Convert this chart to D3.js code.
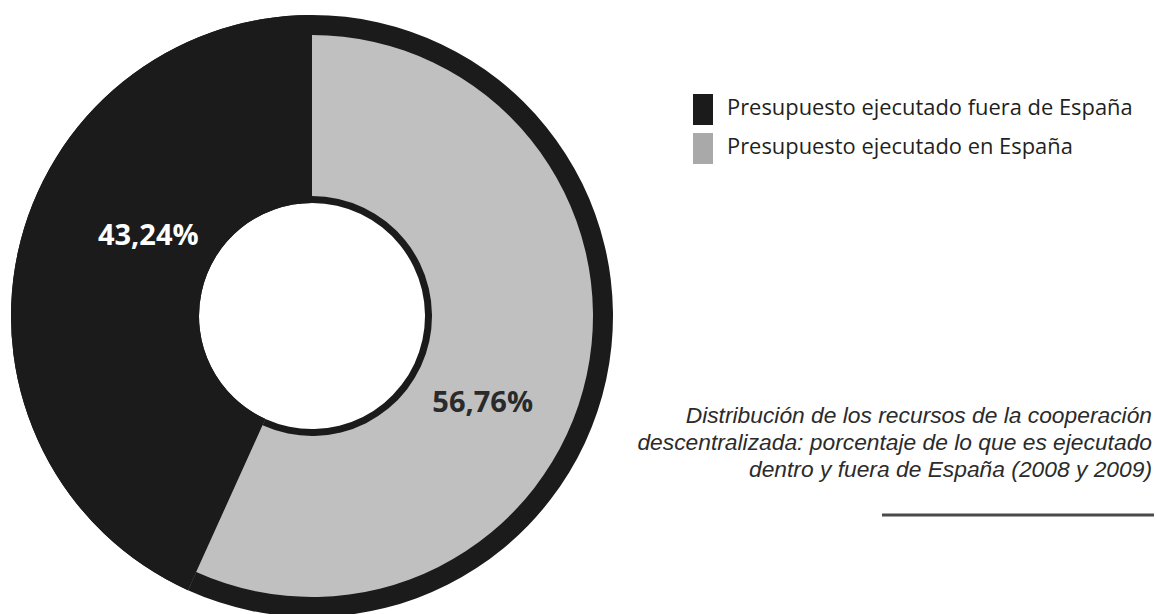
<!DOCTYPE html>
<html>
<head>
<meta charset="utf-8">
<script src="https://cdn.jsdelivr.net/npm/d3@7"></script>
<style>
  body { margin: 0; background: #fff; }
</style>
</head>
<body>
<svg id="chart" width="1157" height="614"></svg>
<script>
// data
const categories = ["Presupuesto ejecutado fuera de España", "Presupuesto ejecutado en España"];
const values = [43.24, 56.76];
const valueLabels = ["43,24%", "56,76%"];
const captionLines = [
  "Distribución de los recursos de la cooperación",
  "descentralizada: porcentaje de lo que es ejecutado",
  "dentro y fuera de España (2008 y 2009)"
];

let darkColor = "#1b1b1b";
let greyColor = "#c0c0c0";
let legendGrey = "#a9a9a9";
let textColor = "#231f20";

let svg = d3.select("#chart");

let cx = 312, cy = 316;
let holeRadius = 113;
let outerRadius = 301;
let innerGap = 7;    // dark ring round the hole
let outerGap = 20;   // dark ring round the light slice

let color = d3.scaleOrdinal().domain(categories).range([darkColor, greyColor]);
let legendColor = d3.scaleOrdinal().domain(categories).range([darkColor, legendGrey]);

let total = d3.sum(values);
let startAngle = -values[0] / total * 2 * Math.PI;

let pie = d3.pie()
  .value(function(d) { return d.value; })
  .sort(null)
  .startAngle(startAngle)
  .endAngle(startAngle + 2 * Math.PI);

let data = categories.map(function(c, i) {
  return { key: c, value: values[i], label: valueLabels[i] };
});
let arcs = pie(data);

let backArc = d3.arc()
  .innerRadius(holeRadius)
  .outerRadius(outerRadius);

let sliceArc = d3.arc()
  .innerRadius(function(d, i) { return i == 0 ? holeRadius : holeRadius + innerGap; })
  .outerRadius(function(d, i) { return i == 0 ? outerRadius : outerRadius - outerGap; });

let g = svg.append("g")
  .attr("transform", "translate(" + cx + "," + cy + ")");

// dark ring behind everything
g.selectAll(".back")
  .data(arcs)
  .enter().append("path")
  .attr("class", "back")
  .attr("d", backArc)
  .attr("fill", darkColor);

// slices
g.selectAll(".slice")
  .data(arcs)
  .enter().append("path")
  .attr("class", "slice")
  .attr("d", function(d, i) { return sliceArc(d, i); })
  .attr("fill", function(d) { return color(d.data.key); });

// percentage labels, a bit past each slice's middle angle
let labelRadius = 188;
let labelShift = 14 * Math.PI / 180;
g.selectAll(".pct")
  .data(arcs)
  .enter().append("text")
  .attr("class", "pct")
  .attr("x", function(d) { return labelRadius * Math.sin((d.startAngle + d.endAngle) / 2 + labelShift); })
  .attr("y", function(d) { return -labelRadius * Math.cos((d.startAngle + d.endAngle) / 2 + labelShift); })
  .attr("dx", function(d, i) { return i == 0 ? 5 : 2; })
  .attr("dy", function(d, i) { return i == 0 ? "0.42em" : "0.45em"; })
  .attr("text-anchor", "middle")
  .style("font-family", "'Open Sans', sans-serif")
  .style("font-weight", "bold")
  .style("font-size", "29px")
  .style("fill", function(d, i) { return i == 0 ? "#ffffff" : "#2a2a2a"; })
  .text(function(d) { return d.data.label; });

// legend
let legendY = d3.scaleBand().domain(categories).range([94, 164]).paddingInner(0.205);
let legend = svg.append("g");
legend.selectAll("rect")
  .data(categories)
  .enter().append("rect")
  .attr("x", 693)
  .attr("y", function(d) { return legendY(d); })
  .attr("width", 20)
  .attr("height", legendY.bandwidth())
  .attr("fill", function(d) { return legendColor(d); });

legend.selectAll("text")
  .data(categories)
  .enter().append("text")
  .attr("x", 727)
  .attr("y", function(d) { return legendY(d) + 21; })
  .style("font-family", "'Open Sans', sans-serif")
  .style("font-size", "21.9px")
  .style("fill", textColor)
  .text(function(d) { return d; });

// caption
svg.append("g")
  .selectAll("text")
  .data(captionLines)
  .enter().append("text")
  .attr("x", 1152)
  .attr("y", function(d, i) { return 423 + i * 27; })
  .attr("text-anchor", "end")
  .style("font-family", "'Liberation Sans', Arial, sans-serif")
  .style("font-style", "italic")
  .style("font-size", "22.8px")
  .style("fill", "#2b2b2b")
  .text(function(d) { return d; });

svg.append("line")
  .attr("x1", 882)
  .attr("x2", 1154)
  .attr("y1", 515)
  .attr("y2", 515)
  .style("stroke", "#4a4a4a")
  .style("stroke-width", 3);
</script>
</body>
</html>
